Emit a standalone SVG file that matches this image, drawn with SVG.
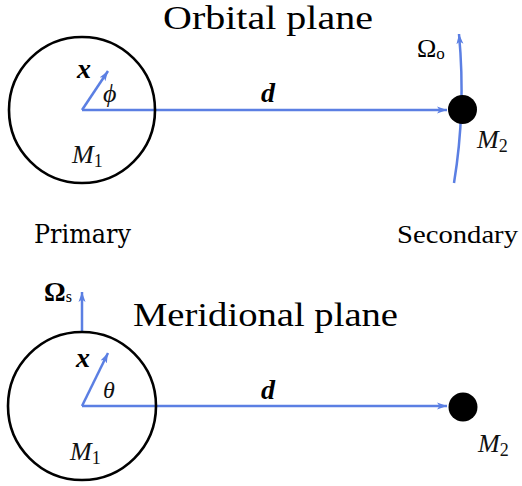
<svg xmlns="http://www.w3.org/2000/svg" width="522" height="486" viewBox="0 0 522 486">
<defs>
<marker id="ah" markerUnits="userSpaceOnUse" markerWidth="12" markerHeight="10" refX="10" refY="4" orient="auto" viewBox="0 0 12 8">
<path d="M0,0.5 L10,4 L0,7.5 L2.5,4 Z" fill="#5b7fe3"/>
</marker>
</defs>
<style>
.m{font-style:italic;fill:#111}
.b{font-style:italic;font-weight:bold;fill:#000}
.bl{stroke:#5b7fe3;stroke-width:2.5;fill:none}
.body{fill:none;stroke:#000;stroke-width:2.6}
</style>
<rect width="522" height="486" fill="#fff"/>
<g font-family="Liberation Serif, serif">
<g id="labels">
<text x="163" y="29" font-size="34" textLength="210" lengthAdjust="spacingAndGlyphs">Orbital plane</text>
<text x="133" y="326" font-size="34" textLength="265" lengthAdjust="spacingAndGlyphs">Meridional plane</text>
<text x="34" y="243" font-size="26" textLength="97" lengthAdjust="spacingAndGlyphs" font-family="DejaVu Serif">Primary</text>
<text x="397" y="243" font-size="26" textLength="121" lengthAdjust="spacingAndGlyphs">Secondary</text>
</g>
<g id="connectors">
<line class="bl" x1="82" y1="110" x2="108" y2="71" marker-end="url(#ah)"/>
<line class="bl" x1="82" y1="110" x2="447" y2="110" marker-end="url(#ah)"/>
<path class="bl" d="M454,183 Q466,110 459,34" marker-end="url(#ah)"/>
<line class="bl" x1="82" y1="332" x2="82" y2="292" marker-end="url(#ah)"/>
<line class="bl" x1="82" y1="406" x2="108" y2="353" marker-end="url(#ah)"/>
<line class="bl" x1="82" y1="406" x2="447" y2="406" marker-end="url(#ah)"/>
</g>
<g id="primary-orbital">
<circle class="body" cx="82" cy="110" r="73"/>
<text class="b" x="77" y="78" font-size="28">x</text>
<text class="m" x="103" y="102" font-size="26">ϕ</text>
<text class="m" x="72" y="163" font-size="26">M<tspan font-size="18" font-style="normal" dy="4">1</tspan></text>
</g>
<g id="secondary-orbital">
<circle cx="462.5" cy="109.5" r="14.5" fill="#000"/>
<text x="417" y="57" font-size="26">Ω<tspan font-size="17" dy="2">o</tspan></text>
<text class="m" x="477" y="148" font-size="26">M<tspan font-size="18" font-style="normal" dy="4">2</tspan></text>
</g>
<text class="b" x="261" y="102" font-size="28">d</text>
<g id="primary-meridional">
<circle class="body" cx="82" cy="406" r="74"/>
<text x="44" y="301" font-size="27" font-weight="bold">Ω<tspan font-size="16" font-weight="normal" dy="1">s</tspan></text>
<text class="b" x="76" y="367" font-size="28">x</text>
<text class="m" x="103" y="398" font-size="24">θ</text>
<text class="m" x="70" y="460" font-size="26">M<tspan font-size="18" font-style="normal" dy="4">1</tspan></text>
</g>
<g id="secondary-meridional">
<circle cx="463" cy="407" r="14.5" fill="#000"/>
<text class="m" x="478" y="452" font-size="26">M<tspan font-size="18" font-style="normal" dy="4">2</tspan></text>
</g>
<text class="b" x="261" y="399" font-size="28">d</text>
</g>
</svg>
